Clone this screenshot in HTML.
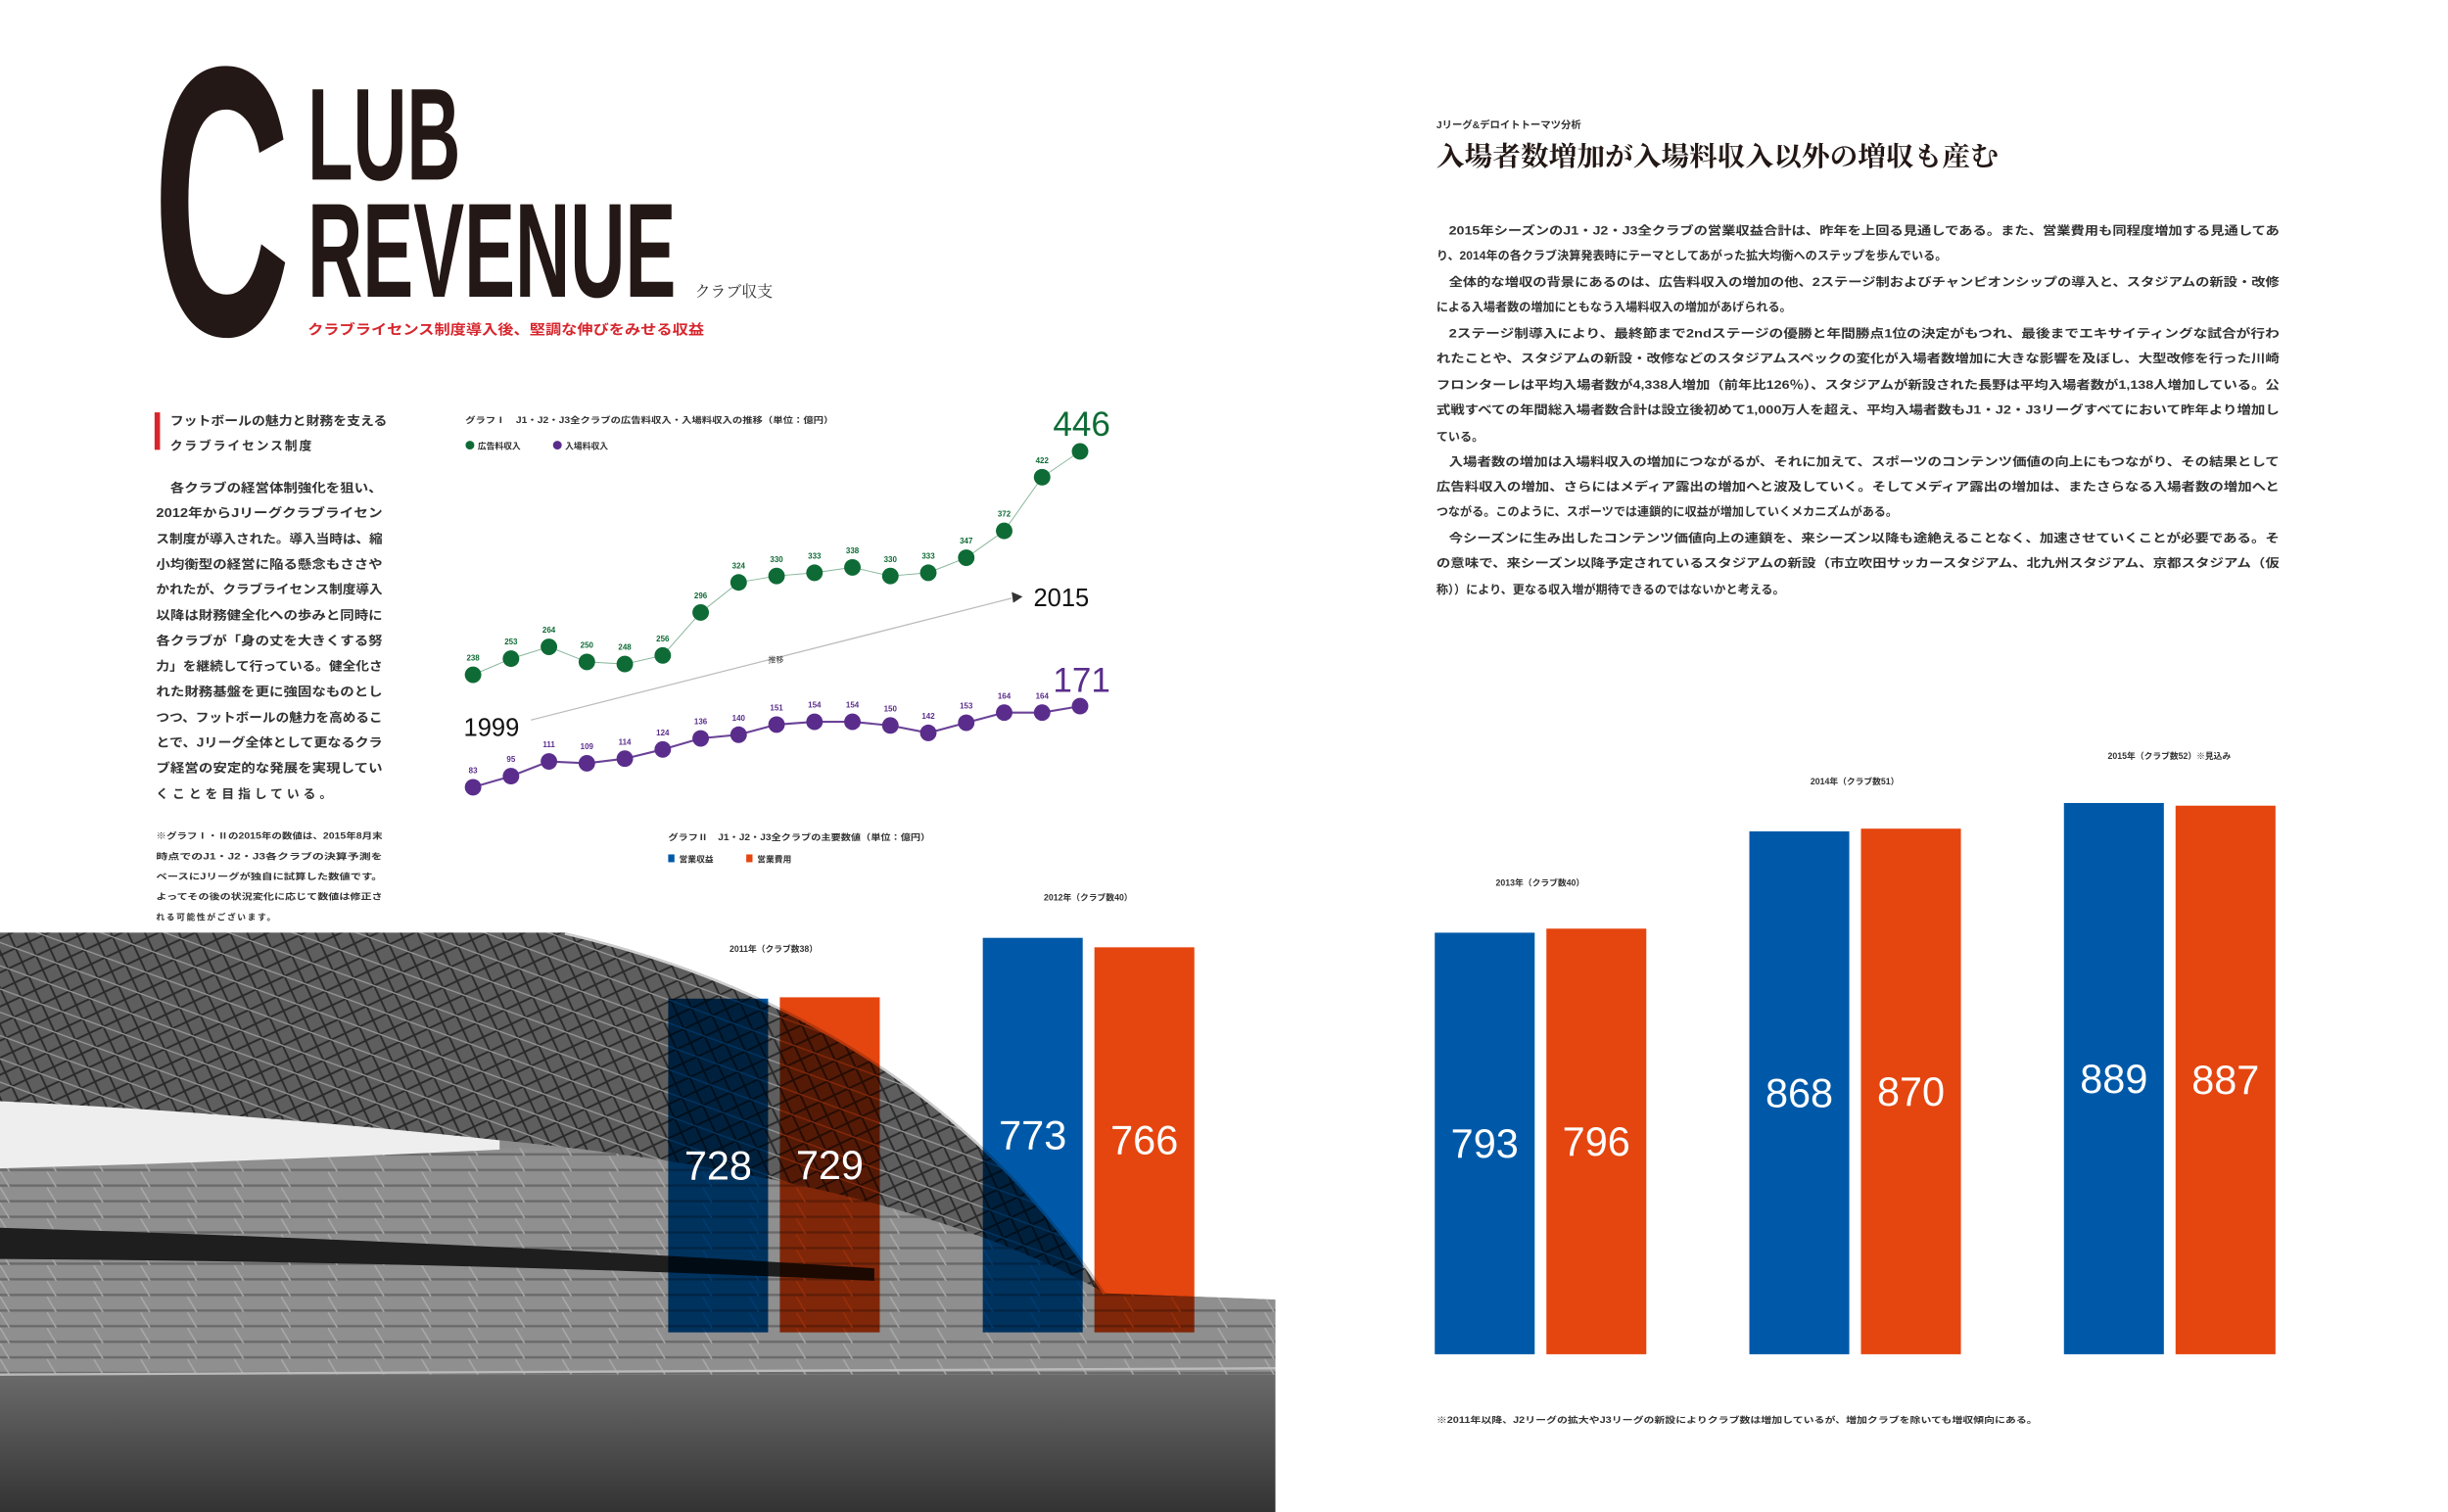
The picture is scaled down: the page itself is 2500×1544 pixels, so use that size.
<!DOCTYPE html>
<html><head><meta charset="utf-8"><style>
html,body{margin:0;padding:0;background:#fff;}
svg{display:block;}
.jp{font-family:"Liberation Sans","Noto Sans CJK JP",sans-serif;}
.sr{font-family:"Liberation Serif","Noto Serif CJK SC",serif;}
.nar{font-family:"Liberation Sans Narrow","Liberation Sans",sans-serif;}
</style></head><body>
<svg id="page" width="2500" height="1544" viewBox="0 0 1568 968" preserveAspectRatio="none" xmlns="http://www.w3.org/2000/svg">
<defs>
<pattern id="lattice" width="14" height="14" patternUnits="userSpaceOnUse" patternTransform="rotate(20)">
<rect width="14" height="14" fill="#5e5e5e"/>
<path d="M0 0 L14 14 M14 0 L0 14" stroke="#2a2a2a" stroke-width="1.2"/>
<path d="M0 7 H14" stroke="#9a9a9a" stroke-width="0.8"/>
</pattern>
<pattern id="seats" width="30" height="10" patternUnits="userSpaceOnUse">
<rect width="30" height="10" fill="#8f8f8f"/>
<path d="M0 9 H30" stroke="#6a6a6a" stroke-width="1.5"/>
<path d="M0 0 L6 10" stroke="#a8a8a8" stroke-width="1"/>
</pattern>
<linearGradient id="grass" x1="0" y1="0" x2="0" y2="1"><stop offset="0" stop-color="#6a6a6a"/><stop offset="1" stop-color="#333"/></linearGradient>
<clipPath id="photoClip"><path d="M0,597 L362,597 Q590,650 708,828 L817,832 L817,968 L0,968 Z"/></clipPath>
</defs>

<!-- Title -->
<g fill="#231815">
<text class="nar" x="98" y="214" font-size="246" font-weight="bold" textLength="88" lengthAdjust="spacingAndGlyphs">C</text>
<text class="nar" x="197" y="115" font-size="84" font-weight="bold" textLength="98" lengthAdjust="spacingAndGlyphs">LUB</text>
<text class="nar" x="197" y="190" font-size="86" font-weight="bold" textLength="236" lengthAdjust="spacingAndGlyphs">REVENUE</text>
<text class="sr" x="445" y="190" font-size="10" fill="#333">クラブ収支</text>
<text class="jp" x="197" y="214" font-size="9" font-weight="bold" fill="#d7262e" textLength="254" lengthAdjust="spacingAndGlyphs">クラブライセンス制度導入後、堅調な伸びをみせる収益</text>
</g>

<!-- Left column -->
<g class="jp" fill="#333" font-weight="bold">
<rect x="99" y="264" width="3.5" height="24" fill="#d7262e"/>
<text x="109" y="272" font-size="8" textLength="139" lengthAdjust="spacingAndGlyphs">フットボールの魅力と財務を支える</text>
<text x="109" y="288" font-size="8" letter-spacing="1.2">クラブライセンス制度</text>
<g font-size="8">
<text x="109" y="315" textLength="136" lengthAdjust="spacingAndGlyphs">各クラブの経営体制強化を狙い、</text>
<text x="100" y="331" textLength="145" lengthAdjust="spacingAndGlyphs">2012年からJリーグクラブライセン</text>
<text x="100" y="347.5" textLength="145" lengthAdjust="spacingAndGlyphs">ス制度が導入された。導入当時は、縮</text>
<text x="100" y="364" textLength="145" lengthAdjust="spacingAndGlyphs">小均衡型の経営に陥る懸念もささや</text>
<text x="100" y="380" textLength="145" lengthAdjust="spacingAndGlyphs">かれたが、クラブライセンス制度導入</text>
<text x="100" y="396.5" textLength="145" lengthAdjust="spacingAndGlyphs">以降は財務健全化への歩みと同時に</text>
<text x="100" y="413" textLength="145" lengthAdjust="spacingAndGlyphs">各クラブが「身の丈を大きくする努</text>
<text x="100" y="429" textLength="145" lengthAdjust="spacingAndGlyphs">力」を継続して行っている。健全化さ</text>
<text x="100" y="445.5" textLength="145" lengthAdjust="spacingAndGlyphs">れた財務基盤を更に強固なものとし</text>
<text x="100" y="462" textLength="145" lengthAdjust="spacingAndGlyphs">つつ、フットボールの魅力を高めるこ</text>
<text x="100" y="478" textLength="145" lengthAdjust="spacingAndGlyphs">とで、Jリーグ全体として更なるクラ</text>
<text x="100" y="494.5" textLength="145" lengthAdjust="spacingAndGlyphs">ブ経営の安定的な発展を実現してい</text>
<text x="100" y="511" letter-spacing="2.5">くことを目指している。</text>
</g>
<g font-size="5.5">
<text x="100" y="537" textLength="145" lengthAdjust="spacingAndGlyphs">※グラフⅠ・Ⅱの2015年の数値は、2015年8月末</text>
<text x="100" y="550" textLength="145" lengthAdjust="spacingAndGlyphs">時点でのJ1・J2・J3各クラブの決算予測を</text>
<text x="100" y="563" textLength="145" lengthAdjust="spacingAndGlyphs">ベースにJリーグが独自に試算した数値です。</text>
<text x="100" y="576" textLength="145" lengthAdjust="spacingAndGlyphs">よってその後の状況変化に応じて数値は修正さ</text>
<text x="100" y="589" letter-spacing="1">れる可能性がございます。</text>
</g>
</g>

<!-- Right article -->
<g class="jp" fill="#333" font-weight="bold">
<text x="920" y="82" font-size="6.5">Jリーグ&amp;デロイトトーマツ分析</text>
<text class="sr" x="920" y="106" font-size="17" fill="#231815" textLength="360" lengthAdjust="spacingAndGlyphs">入場者数増加が入場料収入以外の増収も産む</text>
<g font-size="7.6">
<text x="928" y="150" textLength="532" lengthAdjust="spacingAndGlyphs">2015年シーズンのJ1・J2・J3全クラブの営業収益合計は、昨年を上回る見通しである。また、営業費用も同程度増加する見通してあ</text>
<text x="920" y="166">り、2014年の各クラブ決算発表時にテーマとしてあがった拡大均衡へのステップを歩んでいる。</text>
<text x="928" y="183" textLength="532" lengthAdjust="spacingAndGlyphs">全体的な増収の背景にあるのは、広告料収入の増加の他、2ステージ制およびチャンピオンシップの導入と、スタジアムの新設・改修</text>
<text x="920" y="199">による入場者数の増加にともなう入場料収入の増加があげられる。</text>
<text x="928" y="216" textLength="532" lengthAdjust="spacingAndGlyphs">2ステージ制導入により、最終節まで2ndステージの優勝と年間勝点1位の決定がもつれ、最後までエキサイティングな試合が行わ</text>
<text x="920" y="232" textLength="540" lengthAdjust="spacingAndGlyphs">れたことや、スタジアムの新設・改修などのスタジアムスペックの変化が入場者数増加に大きな影響を及ぼし、大型改修を行った川崎</text>
<text x="920" y="249" textLength="540" lengthAdjust="spacingAndGlyphs">フロンターレは平均入場者数が4,338人増加（前年比126％）、スタジアムが新設された長野は平均入場者数が1,138人増加している。公</text>
<text x="920" y="265" textLength="540" lengthAdjust="spacingAndGlyphs">式戦すべての年間総入場者数合計は設立後初めて1,000万人を超え、平均入場者数もJ1・J2・J3リーグすべてにおいて昨年より増加し</text>
<text x="920" y="282">ている。</text>
<text x="928" y="298" textLength="532" lengthAdjust="spacingAndGlyphs">入場者数の増加は入場料収入の増加につながるが、それに加えて、スポーツのコンテンツ価値の向上にもつながり、その結果として</text>
<text x="920" y="314" textLength="540" lengthAdjust="spacingAndGlyphs">広告料収入の増加、さらにはメディア露出の増加へと波及していく。そしてメディア露出の増加は、またさらなる入場者数の増加へと</text>
<text x="920" y="330">つながる。このように、スポーツでは連鎖的に収益が増加していくメカニズムがある。</text>
<text x="928" y="347" textLength="532" lengthAdjust="spacingAndGlyphs">今シーズンに生み出したコンテンツ価値向上の連鎖を、来シーズン以降も途絶えることなく、加速させていくことが必要である。そ</text>
<text x="920" y="363" textLength="540" lengthAdjust="spacingAndGlyphs">の意味で、来シーズン以降予定されているスタジアムの新設（市立吹田サッカースタジアム、北九州スタジアム、京都スタジアム（仮</text>
<text x="920" y="380">称））により、更なる収入増が期待できるのではないかと考える。</text>
</g>
<text x="920" y="911" font-size="5.5" textLength="385" lengthAdjust="spacingAndGlyphs">※2011年以降、J2リーグの拡大やJ3リーグの新設によりクラブ数は増加しているが、増加クラブを除いても増収傾向にある。</text>
</g>

<!-- Stadium photo -->
<g clip-path="url(#photoClip)">
<rect x="0" y="590" width="817" height="380" fill="#8c8c8c"/>
<rect x="0" y="735" width="817" height="150" fill="url(#seats)"/>
<path d="M0,786 Q300,795 560,812 L560,820 Q300,808 0,806 Z" fill="#1e1e1e"/>
<path d="M0,700 Q150,708 320,728 L320,736 Q150,744 0,748 Z" fill="#eeeeee"/>
<path d="M0,597 L362,597 Q590,650 708,828 Q580,755 320,730 Q150,712 0,705 Z" fill="url(#lattice)"/>
<path d="M362,597 Q590,650 708,828" fill="none" stroke="#cfcfcf" stroke-width="3"/>
<rect x="0" y="880" width="817" height="88" fill="url(#grass)"/>
<path d="M0,880 L817,876" stroke="#bbb" stroke-width="1.5"/>
</g>

<!-- Line chart -->
<g id="lineChart" class="jp">
<text x="298" y="271" font-size="5.5" font-weight="bold" fill="#333" textLength="236" lengthAdjust="spacingAndGlyphs">グラフⅠ　J1・J2・J3全クラブの広告料収入・入場料収入の推移（単位：億円）</text>
<circle cx="301" cy="285" r="2.8" fill="#0e6b35"/>
<text x="306" y="287.5" font-size="5.5" font-weight="bold" fill="#333">広告料収入</text>
<circle cx="357" cy="285" r="2.8" fill="#5a2d8c"/>
<text x="362" y="287.5" font-size="5.5" font-weight="bold" fill="#333">入場料収入</text>
<line x1="340" y1="461" x2="648" y2="383" stroke="#bbb" stroke-width="0.8"/>
<path d="M648,379 L655,382 L649,386 Z" fill="#333"/>
<text x="492" y="424" font-size="5" fill="#333">推移</text>
<text x="297" y="471" font-size="16" fill="#111" font-family="Liberation Sans Narrow, Liberation Sans, sans-serif">1999</text>
<text x="662" y="388" font-size="16" fill="#111" font-family="Liberation Sans Narrow, Liberation Sans, sans-serif">2015</text>
</g>

<!-- Bar chart -->
<g id="barChart" class="jp">
<text x="428" y="538" font-size="5.5" font-weight="bold" fill="#333" textLength="168" lengthAdjust="spacingAndGlyphs">グラフⅡ　J1・J2・J3全クラブの主要数値（単位：億円）</text>
<rect x="428" y="547" width="4" height="5" fill="#0059a8"/>
<text x="435" y="552" font-size="5.5" font-weight="bold" fill="#333">営業収益</text>
<rect x="478" y="547" width="4" height="5" fill="#e5450f"/>
<text x="485" y="552" font-size="5.5" font-weight="bold" fill="#333">営業費用</text>
</g>
</svg>

<script>
const NS = "http://www.w3.org/2000/svg";
// Line chart data
const lineYears = [1999,2000,2001,2002,2003,2004,2005,2006,2007,2008,2009,2010,2011,2012,2013,2014,2015];
const adRevenue = [238,253,264,250,248,256,296,324,330,333,338,330,333,347,372,422,446];
const ticketRevenue = [83,95,111,109,114,124,136,140,151,154,154,150,142,153,164,164,171];
// Bar chart data
const barYearLabels = ["2011年（クラブ数38）","2012年（クラブ数40）","2013年（クラブ数40）","2014年（クラブ数51）","2015年（クラブ数52）※見込み"];
const operatingRevenue = [728,773,793,868,889];
const operatingExpense = [729,766,796,870,887];

function mk(tag, attrs, parent){const e=document.createElementNS(NS,tag);for(const k in attrs)e.setAttribute(k,attrs[k]);parent.appendChild(e);return e;}

const xLine = i => 303 + i*24.3;
const yAd = v => 432 - (v-238)*0.6875;
const yTicket = v => 504 - (v-83)*0.59;
const lc = document.getElementById('lineChart');
function drawSeries(vals, yf, color, name, bigLabelDy){
  const pts = vals.map((v,i)=>xLine(i)+","+yf(v)).join(" ");
  const pl = mk('polyline',{points:pts,fill:'none',stroke:color,'stroke-width':name==='ad'?0.6:1.3,opacity:name==='ad'?0.5:0.9},lc);
  
  
  vals.forEach((v,i)=>{
    const c = mk('circle',{cx:xLine(i),cy:yf(v),r:5.3,fill:color},lc);
    
    
    if(i<vals.length-1){
      const t = mk('text',{x:xLine(i),y:yf(v)-9,'font-size':5,'font-weight':'bold',fill:color,'text-anchor':'middle'},lc);
      t.textContent = v;
      
      
    }
  });
  const last = vals.length-1;
  const b = mk('text',{x:xLine(last)+1,y:yf(vals[last])+bigLabelDy,'font-size':22,fill:color,'text-anchor':'middle','font-family':'Liberation Sans Narrow, Liberation Sans, sans-serif'},lc);
  b.textContent = vals[last];
  
  
}
drawSeries(adRevenue, yAd, '#0e6b35', 'ad', -10);
drawSeries(ticketRevenue, yTicket, '#5a2d8c', 'ticket', -9);

const barW = 64;
const groupX = i => 428 + i*201.5 + (i>=2 ? 88 : 0);
const baseY = i => i>=2 ? 867 : 853;
const barH = v => (v-481)*0.865;
const bc = document.getElementById('barChart');
operatingRevenue.forEach((v,i)=>{
  const pair = [[v,'#0059a8','revenue',0],[operatingExpense[i],'#e5450f','expense',71.5]];
  pair.forEach(([val,color,nm,off])=>{
    const h = barH(val), x = groupX(i)+off, y = baseY(i)-h;
    const r = mk('rect',{x:x,y:y,width:barW,height:h,fill:color,style:'mix-blend-mode:multiply'},bc);
    
    
    const t = mk('text',{x:x+barW/2,y:y+h/2+9,'font-size':26,fill:'#fff','text-anchor':'middle','font-family':'Liberation Sans Narrow, Liberation Sans, sans-serif'},bc);
    t.textContent = val;
    
    
  });
  const top = Math.min(barH(v), barH(operatingExpense[i]));
  const yl = mk('text',{x:groupX(i)+67.5,y:baseY(i)-top-30,'font-size':5.5,'font-weight':'bold',fill:'#333','text-anchor':'middle'},bc);
  yl.textContent = barYearLabels[i];
  
  
});
</script>
</body></html>
